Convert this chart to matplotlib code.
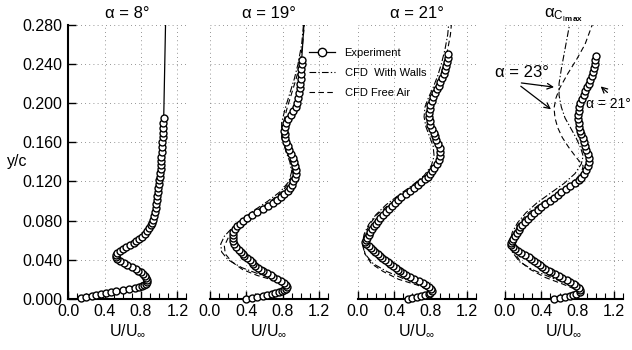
import matplotlib.pyplot as plt
from matplotlib.ticker import MultipleLocator

plt.rcParams['font.family'] = ['Liberation Sans', 'DejaVu Sans']
plt.rcParams['mathtext.fontset'] = 'custom'
plt.rcParams['mathtext.rm'] = 'Liberation Sans'
plt.rcParams['mathtext.it'] = 'Liberation Sans'
plt.rcParams['mathtext.bf'] = 'Liberation Sans:bold'

# ---- boundary layer profiles, y/c against U/Uinf ----

# alpha = 8 deg, experiment
y8 = [0.001, 0.002, 0.003, 0.004, 0.005, 0.006, 0.007, 0.008, 0.009, 0.010,
      0.011, 0.012, 0.013, 0.014, 0.015, 0.017, 0.019, 0.021, 0.023, 0.025,
      0.027, 0.029, 0.031, 0.033, 0.035, 0.037, 0.039, 0.041, 0.043, 0.045,
      0.047, 0.049, 0.051, 0.053, 0.055, 0.057, 0.059, 0.061, 0.063, 0.066,
      0.069, 0.072, 0.075, 0.078, 0.081, 0.085, 0.089, 0.093, 0.097, 0.101,
      0.105, 0.109, 0.113, 0.117, 0.121, 0.125, 0.129, 0.133, 0.137, 0.141,
      0.145, 0.150, 0.155, 0.160, 0.165, 0.170, 0.175, 0.180, 0.185]
u8 = [0.14, 0.20, 0.26, 0.31, 0.36, 0.41, 0.47, 0.53, 0.60, 0.67,
      0.73, 0.78, 0.81, 0.83, 0.85, 0.87, 0.87, 0.86, 0.84, 0.82,
      0.80, 0.77, 0.74, 0.70, 0.65, 0.61, 0.57, 0.54, 0.52, 0.52,
      0.54, 0.57, 0.60, 0.64, 0.68, 0.72, 0.75, 0.78, 0.81, 0.845,
      0.87, 0.89, 0.905, 0.92, 0.93, 0.94, 0.95, 0.96, 0.965, 0.975,
      0.98, 0.985, 0.99, 0.995, 1.0, 1.005, 1.01, 1.015, 1.02, 1.02,
      1.025, 1.03, 1.03, 1.035, 1.04, 1.04, 1.045, 1.045, 1.05]
y8_tail = [0.185, 0.280]
u8_tail = [1.05, 1.07]

# alpha = 19 deg
y19 = [0.000, 0.001, 0.002, 0.003, 0.004, 0.005, 0.006, 0.007, 0.008, 0.009,
       0.010, 0.012, 0.014, 0.016, 0.018, 0.020, 0.022, 0.024, 0.026, 0.028,
       0.030, 0.032, 0.034, 0.036, 0.038, 0.040, 0.042, 0.044, 0.046, 0.048,
       0.050, 0.053, 0.056, 0.059, 0.062, 0.065, 0.068, 0.071, 0.074, 0.077,
       0.080, 0.083, 0.086, 0.089, 0.092, 0.095, 0.098, 0.101, 0.104, 0.107,
       0.110, 0.113, 0.116, 0.120, 0.124, 0.128, 0.132, 0.136, 0.140, 0.144,
       0.148, 0.152, 0.156, 0.160, 0.164, 0.168, 0.172, 0.176, 0.180, 0.184,
       0.188, 0.192, 0.196, 0.200, 0.205, 0.210, 0.215, 0.220, 0.225, 0.230,
       0.235, 0.240, 0.244]
u19 = [0.40, 0.46, 0.52, 0.58, 0.63, 0.68, 0.72, 0.76, 0.79, 0.82,
       0.84, 0.85, 0.84, 0.82, 0.78, 0.74, 0.70, 0.67, 0.63, 0.59,
       0.56, 0.53, 0.50, 0.48, 0.46, 0.44, 0.41, 0.38, 0.36, 0.34,
       0.32, 0.29, 0.27, 0.255, 0.25, 0.25, 0.26, 0.28, 0.30, 0.33,
       0.37, 0.41, 0.46, 0.52, 0.59, 0.64, 0.69, 0.74, 0.78, 0.82,
       0.86, 0.88, 0.90, 0.92, 0.935, 0.945, 0.945, 0.94, 0.93, 0.91,
       0.89, 0.87, 0.855, 0.84, 0.83, 0.825, 0.82, 0.825, 0.84, 0.86,
       0.89, 0.92, 0.945, 0.96, 0.975, 0.985, 0.99, 0.995, 1.0, 1.0,
       1.005, 1.01, 1.01]
y19_tail = [0.244, 0.280]
u19_tail = [1.01, 1.035]
y19_walls = [0.000, 0.005, 0.012, 0.018, 0.025, 0.032, 0.040, 0.048, 0.056, 0.064,
             0.072, 0.080, 0.090, 0.100, 0.110, 0.120, 0.130, 0.140, 0.150, 0.165,
             0.180, 0.195, 0.210, 0.225, 0.240, 0.260, 0.280]
u19_walls = [0.40, 0.70, 0.84, 0.78, 0.55, 0.35, 0.20, 0.13, 0.12, 0.16,
             0.24, 0.34, 0.48, 0.64, 0.78, 0.87, 0.90, 0.88, 0.84, 0.79,
             0.79, 0.83, 0.88, 0.93, 0.97, 1.01, 1.03]
y19_free = [0.000, 0.006, 0.012, 0.018, 0.024, 0.030, 0.038, 0.046, 0.054, 0.062,
            0.070, 0.080, 0.090, 0.100, 0.110, 0.120, 0.130, 0.140, 0.150, 0.165,
            0.180, 0.195, 0.210, 0.225, 0.240, 0.260, 0.280]
u19_free = [0.40, 0.72, 0.84, 0.74, 0.52, 0.36, 0.24, 0.17, 0.16, 0.20,
            0.27, 0.38, 0.52, 0.67, 0.80, 0.88, 0.91, 0.89, 0.85, 0.80,
            0.81, 0.85, 0.90, 0.95, 0.99, 1.02, 1.04]

# alpha = 21 deg
y21 = [0.000, 0.001, 0.002, 0.003, 0.004, 0.005, 0.006, 0.008, 0.010, 0.012,
       0.014, 0.016, 0.018, 0.020, 0.022, 0.024, 0.026, 0.028, 0.030, 0.032,
       0.034, 0.036, 0.038, 0.040, 0.042, 0.044, 0.046, 0.048, 0.050, 0.052,
       0.054, 0.056, 0.058, 0.060, 0.062, 0.065, 0.068, 0.071, 0.074, 0.077,
       0.080, 0.083, 0.086, 0.089, 0.092, 0.095, 0.098, 0.101, 0.104, 0.107,
       0.110, 0.113, 0.116, 0.119, 0.122, 0.125, 0.128, 0.131, 0.134, 0.138,
       0.142, 0.146, 0.150, 0.154, 0.158, 0.162, 0.166, 0.170, 0.174, 0.178,
       0.182, 0.186, 0.190, 0.194, 0.198, 0.202, 0.206, 0.210, 0.214, 0.218,
       0.222, 0.226, 0.230, 0.234, 0.238, 0.242, 0.246, 0.250]
u21 = [0.55, 0.60, 0.65, 0.70, 0.74, 0.78, 0.80, 0.82, 0.81, 0.78,
       0.75, 0.72, 0.67, 0.62, 0.57, 0.53, 0.50, 0.47, 0.44, 0.42,
       0.39, 0.36, 0.33, 0.30, 0.27, 0.25, 0.22, 0.19, 0.17, 0.15,
       0.12, 0.09, 0.08, 0.09, 0.10, 0.12, 0.14, 0.16, 0.18, 0.20,
       0.22, 0.25, 0.28, 0.31, 0.34, 0.38, 0.41, 0.44, 0.48, 0.53,
       0.58, 0.62, 0.66, 0.70, 0.74, 0.77, 0.80, 0.82, 0.84, 0.87,
       0.89, 0.91, 0.91, 0.90, 0.88, 0.865, 0.85, 0.835, 0.82, 0.80,
       0.79, 0.785, 0.785, 0.79, 0.80, 0.815, 0.83, 0.85, 0.87, 0.89,
       0.91, 0.93, 0.945, 0.96, 0.97, 0.98, 0.99, 0.995]
y21_walls = [0.000, 0.007, 0.014, 0.020, 0.028, 0.036, 0.046, 0.056, 0.066, 0.076,
             0.086, 0.096, 0.106, 0.116, 0.126, 0.136, 0.146, 0.156, 0.166, 0.176,
             0.186, 0.196, 0.206, 0.216, 0.228, 0.240, 0.255, 0.270, 0.280]
u21_walls = [0.50, 0.82, 0.72, 0.52, 0.32, 0.17, 0.08, 0.05, 0.07, 0.12,
             0.20, 0.31, 0.45, 0.60, 0.73, 0.81, 0.84, 0.83, 0.79, 0.75,
             0.73, 0.74, 0.78, 0.83, 0.88, 0.92, 0.96, 0.99, 1.00]
y21_free = [0.000, 0.007, 0.014, 0.020, 0.028, 0.036, 0.046, 0.056, 0.066, 0.076,
            0.086, 0.096, 0.106, 0.116, 0.126, 0.136, 0.146, 0.156, 0.166, 0.176,
            0.186, 0.196, 0.206, 0.216, 0.228, 0.240, 0.255, 0.270, 0.280]
u21_free = [0.50, 0.82, 0.66, 0.45, 0.28, 0.15, 0.08, 0.06, 0.08, 0.13,
            0.21, 0.34, 0.50, 0.67, 0.80, 0.87, 0.89, 0.87, 0.82, 0.78,
            0.76, 0.77, 0.81, 0.86, 0.91, 0.95, 0.99, 1.02, 1.03]

# alpha at Cl max (experiment 21 deg, CFD 23 deg)
ymax = [0.000, 0.001, 0.002, 0.003, 0.004, 0.005, 0.007, 0.009, 0.011, 0.013,
        0.015, 0.017, 0.019, 0.021, 0.023, 0.025, 0.027, 0.029, 0.031, 0.033,
        0.035, 0.037, 0.039, 0.041, 0.043, 0.045, 0.047, 0.049, 0.051, 0.053,
        0.055, 0.057, 0.059, 0.061, 0.064, 0.067, 0.070, 0.073, 0.076, 0.079,
        0.082, 0.085, 0.088, 0.091, 0.094, 0.097, 0.100, 0.103, 0.106, 0.109,
        0.112, 0.115, 0.118, 0.121, 0.124, 0.128, 0.132, 0.136, 0.140, 0.144,
        0.148, 0.152, 0.156, 0.160, 0.164, 0.168, 0.172, 0.176, 0.180, 0.184,
        0.188, 0.192, 0.196, 0.200, 0.204, 0.208, 0.212, 0.216, 0.220, 0.224,
        0.228, 0.232, 0.236, 0.240, 0.244, 0.248]
umax = [0.54, 0.60, 0.66, 0.71, 0.75, 0.78, 0.82, 0.83, 0.81, 0.78,
        0.76, 0.72, 0.68, 0.63, 0.59, 0.55, 0.51, 0.48, 0.44, 0.41,
        0.38, 0.35, 0.32, 0.29, 0.26, 0.22, 0.18, 0.14, 0.11, 0.09,
        0.07, 0.07, 0.08, 0.09, 0.11, 0.13, 0.15, 0.17, 0.19, 0.22,
        0.25, 0.29, 0.32, 0.36, 0.40, 0.44, 0.49, 0.54, 0.58, 0.62,
        0.67, 0.72, 0.77, 0.81, 0.84, 0.87, 0.89, 0.91, 0.92, 0.92,
        0.91, 0.895, 0.88, 0.87, 0.855, 0.84, 0.825, 0.815, 0.81, 0.805,
        0.805, 0.81, 0.815, 0.83, 0.85, 0.865, 0.88, 0.90, 0.92, 0.94,
        0.955, 0.97, 0.98, 0.99, 0.995, 1.0]
ymax_walls = [0.000, 0.008, 0.015, 0.022, 0.030, 0.038, 0.048, 0.058, 0.068, 0.078,
              0.088, 0.098, 0.108, 0.118, 0.128, 0.138, 0.146, 0.155, 0.165, 0.175,
              0.185, 0.196, 0.208, 0.220, 0.235, 0.250, 0.265, 0.280]
umax_walls = [0.50, 0.82, 0.70, 0.50, 0.30, 0.16, 0.08, 0.055, 0.08, 0.14,
              0.23, 0.35, 0.50, 0.65, 0.77, 0.84, 0.86, 0.83, 0.78, 0.72,
              0.66, 0.62, 0.595, 0.595, 0.62, 0.65, 0.68, 0.71]
ymax_free = [0.000, 0.008, 0.015, 0.022, 0.030, 0.038, 0.048, 0.058, 0.068, 0.078,
             0.088, 0.098, 0.108, 0.118, 0.128, 0.136, 0.145, 0.155, 0.165, 0.175,
             0.185, 0.195, 0.205, 0.215, 0.230, 0.245, 0.260, 0.280]
umax_free = [0.50, 0.82, 0.64, 0.44, 0.28, 0.17, 0.10, 0.08, 0.10, 0.16,
             0.26, 0.40, 0.58, 0.73, 0.84, 0.86, 0.78, 0.70, 0.63, 0.58,
             0.55, 0.54, 0.56, 0.60, 0.69, 0.79, 0.88, 0.96]

titles = ['α = 8°', 'α = 19°', 'α = 21°', r'$\alpha_{C_{l\,\mathbf{max}}}$']
y_ticks = [0.000, 0.040, 0.080, 0.120, 0.160, 0.200, 0.240, 0.280]
x_ticks = [0.0, 0.4, 0.8, 1.2]

panels = [
    dict(exp=(u8, y8), tail=(u8_tail, y8_tail), walls=None, free=None),
    dict(exp=(u19, y19), tail=(u19_tail, y19_tail),
         walls=(u19_walls, y19_walls), free=(u19_free, y19_free)),
    dict(exp=(u21, y21), tail=None,
         walls=(u21_walls, y21_walls), free=(u21_free, y21_free)),
    dict(exp=(umax, ymax), tail=None,
         walls=(umax_walls, ymax_walls), free=(umax_free, ymax_free)),
]

dashdot = (0, (6, 2, 1.2, 2))
dashed = (0, (5, 3))
grid_style = dict(color='0.45', linewidth=0.6, linestyle=(0, (1, 4)))

fig = plt.figure(figsize=(6.32, 3.5), dpi=100)
lefts = [0.108, 0.332, 0.566, 0.799]
axes = []
for i, (left, p) in enumerate(zip(lefts, panels)):
    ax = fig.add_axes([left, 0.146, 0.187, 0.783])
    axes.append(ax)
    ax.set_xlim(0, 1.3)
    ax.set_ylim(0, 0.28)

    for gx in x_ticks[(1 if i == 0 else 0):]:
        ax.axvline(gx, zorder=0, **grid_style)
    for gy in y_ticks[1:]:
        ax.axhline(gy, zorder=0, **grid_style)

    if p['walls'] is not None:
        ax.plot(*p['walls'], color='k', lw=0.8, ls=dashdot, zorder=2)
        ax.plot(*p['free'], color='k', lw=0.8, ls=dashed, zorder=2)
    if p['tail'] is not None:
        ax.plot(*p['tail'], color='k', lw=0.9, zorder=3)
    ax.plot(*p['exp'], color='k', lw=0.9, marker='o', ms=5.0, mfc='white',
            mec='k', mew=1.0, clip_on=False, zorder=4)

    for side in ['top', 'right']:
        ax.spines[side].set_visible(False)
    ax.spines['bottom'].set_linewidth(1.5)
    ax.xaxis.set_minor_locator(MultipleLocator(0.1))
    ax.set_xticks(x_ticks)
    ax.set_xticklabels(['%.1f' % v for v in x_ticks])
    ax.tick_params(axis='x', which='major', direction='in', length=6,
                   width=1.0, labelsize=11.5, pad=4)
    ax.tick_params(axis='x', which='minor', direction='in', length=4, width=0.8)

    if i == 0:
        ax.spines['left'].set_linewidth(1.5)
        ax.set_yticks(y_ticks)
        ax.set_yticklabels(['%.3f' % v for v in y_ticks])
        ax.tick_params(axis='y', direction='in', length=6, width=1.0,
                       labelsize=11.5, pad=4)
        ax.set_ylabel('y/c', fontsize=11.5, rotation=0, va='center')
        ax.yaxis.set_label_coords(-0.43, 0.5)
    else:
        ax.spines['left'].set_visible(False)
        ax.set_yticks([])

    ax.set_xlabel(r'U/U$_\infty$', fontsize=11.5, labelpad=2)
    ax.set_title(titles[i], fontsize=12, pad=5)

# legend for the three line types, placed across panels two and three
h_exp, = axes[1].plot([], [], color='k', lw=0.9, marker='o', ms=6,
                      mfc='white', mec='k', mew=1.0)
h_walls, = axes[1].plot([], [], color='k', lw=0.8, ls=dashdot)
h_free, = axes[1].plot([], [], color='k', lw=0.8, ls=dashed)
fig.legend([h_exp, h_walls, h_free],
           ['Experiment', 'CFD  With Walls', 'CFD Free Air'],
           loc='upper left', bbox_to_anchor=(0.489, 0.862), frameon=False,
           fontsize=8, handlelength=2.3, handletextpad=0.9, labelspacing=0.9,
           borderpad=0, borderaxespad=0)

# callouts on the Cl max panel
ax4 = axes[3]
ax4.annotate('', xy=(0.57, 0.216), xytext=(0.15, 0.221),
             arrowprops=dict(arrowstyle='->', color='k', lw=0.9))
ax4.annotate('', xy=(0.53, 0.192), xytext=(0.15, 0.219),
             arrowprops=dict(arrowstyle='->', color='k', lw=0.9))
ax4.text(-0.11, 0.231, 'α = 23°', fontsize=12, ha='left', va='center')
ax4.annotate('', xy=(1.03, 0.219), xytext=(1.15, 0.209),
             arrowprops=dict(arrowstyle='->', color='k', lw=0.9))
ax4.text(0.895, 0.199, 'α = 21°', fontsize=10, ha='left', va='center',
         zorder=6)

fig.savefig('out.png', dpi=100)
